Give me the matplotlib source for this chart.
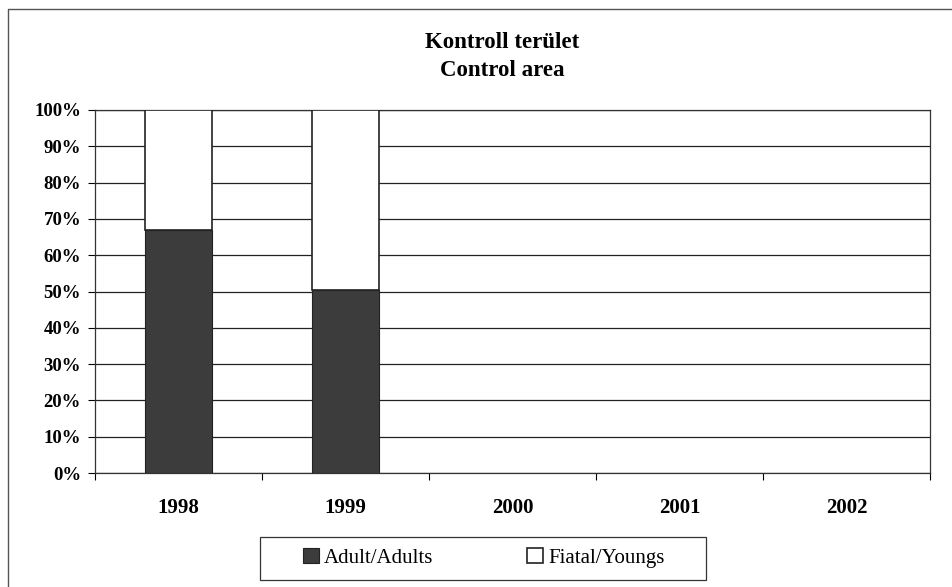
import matplotlib.pyplot as plt
import numpy as np
from matplotlib.lines import Line2D
from matplotlib.patches import Rectangle
from matplotlib.ticker import PercentFormatter

years = ["1998", "1999", "2000", "2001", "2002"]
adults = [67.0, 50.5, 0, 0, 0]
youngs = [33.0, 49.5, 0, 0, 0]

plt.rcParams["font.family"] = ["Liberation Serif", "DejaVu Serif"]

fig = plt.figure(figsize=(9.52, 5.87), dpi=100)
ax = fig.add_axes([95 / 952, 1 - 473 / 587, (930 - 95) / 952, (473 - 110) / 587])

x = np.arange(len(years))
# no outline for years without data
edges = ["#222222" if a + y > 0 else "none" for a, y in zip(adults, youngs)]
ax.bar(x, adults, width=0.4, color="#3c3c3c", edgecolor=edges, linewidth=0.8,
       label="Adult/Adults", zorder=3)
ax.bar(x, youngs, width=0.4, bottom=adults, color="white", edgecolor=edges,
       linewidth=1.2, label="Fiatal/Youngs", zorder=3)

ax.set_xlim(-0.5, len(years) - 0.5)
ax.set_ylim(0, 100)
ax.set_yticks(np.arange(0, 101, 10))
ax.yaxis.set_major_formatter(PercentFormatter(decimals=0))
ax.set_xticks(x)
ax.set_xticklabels(years)
ax.set_xticks(np.arange(-0.5, len(years), 1), minor=True)
ax.tick_params(axis="x", which="major", length=0, pad=18, labelsize=15)
ax.tick_params(axis="x", which="minor", length=5, direction="out", width=0.8)
ax.tick_params(axis="y", length=5, width=0.8, labelsize=13.5, pad=5)
for lab in ax.get_xticklabels() + ax.get_yticklabels():
    lab.set_fontweight("bold")
ax.grid(axis="y", color="#222222", linewidth=0.9, zorder=0)
ax.set_axisbelow(True)
for s in ax.spines.values():
    s.set_color("#333333")
    s.set_linewidth(0.9)

fig.text(502 / 952, 1 - 42 / 587, "Kontroll terület", ha="center", va="center",
         fontsize=16.5, fontweight="bold")
fig.text(502 / 952, 1 - 70 / 587, "Control area", ha="center", va="center",
         fontsize=16.5, fontweight="bold")

leg = ax.legend(loc="center", bbox_to_anchor=(484 / 952, 1 - 558 / 587),
                bbox_transform=fig.transFigure, ncol=2, frameon=False,
                fontsize=15, handlelength=0.75, handleheight=0.75, handletextpad=0.25,
                columnspacing=4.5, borderpad=0.5)

# legend box, wider than the entries
fig.patches.append(Rectangle((260 / 952, 1 - 580 / 587), 446 / 952, 43 / 587,
                             transform=fig.transFigure, fill=False,
                             edgecolor="#333333", linewidth=0.9))

# outer chart border (only top and left edges visible in the scan)
fig.lines.append(Line2D([8 / 952, 8 / 952, 1], [0, 1 - 9 / 587, 1 - 9 / 587],
                        transform=fig.transFigure, color="#555555", linewidth=1.0))

fig.savefig("out.png", dpi=100)
